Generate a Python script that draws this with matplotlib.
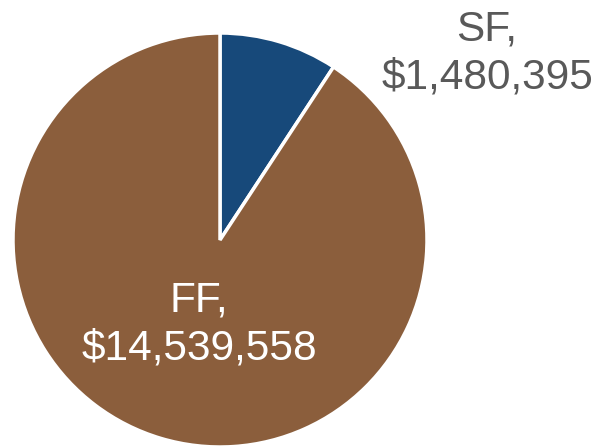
import matplotlib
matplotlib.use("Agg")
import matplotlib.pyplot as plt

categories = ["SF", "FF"]
amounts = [1480395, 14539558]
colors = ["#17497A", "#8B5E3C"]
text_colors = ["#595959", "white"]
label_pos = [(1.29, 0.90), (-0.10, -0.41)]

plt.rcParams['font.family'] = ['Liberation Sans', 'DejaVu Sans']

fig = plt.figure(figsize=(6, 4.48), dpi=100)
ax = fig.add_axes([13/600, 1/448, 414/600, 414/448])

ax.pie(amounts, colors=colors, startangle=90, counterclock=False,
       wedgeprops=dict(edgecolor="white", linewidth=2.5))
ax.set_xlim(-1, 1)
ax.set_ylim(-1, 1)

for cat, amt, (x, y), c in zip(categories, amounts, label_pos, text_colors):
    ax.text(x, y, f"{cat},\n${amt:,}", ha="center", va="center",
            fontsize=30.5, color=c, linespacing=1.25)

fig.savefig("out.png")
